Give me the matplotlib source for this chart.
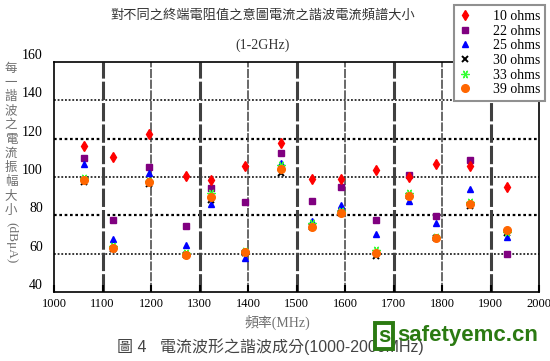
"""Harmonic current spectrum for different termination resistors (1-2 GHz)."""
import matplotlib
matplotlib.use("Agg")
import matplotlib.pyplot as plt
import matplotlib.transforms as mtransforms

# ---- data ----
FREQ = [1061, 1122, 1195, 1272, 1324, 1393, 1468, 1531, 1591, 1663, 1731, 1787, 1858, 1934]
R10 = [116.0, 110.5, 122.5, 100.3, 98.2, 105.5, 117.8, 99.0, 98.8, 103.8, 100.2, 106.6, 105.9, 94.6]
R22 = [110.0, 77.7, 105.4, 74.5, 94.4, 86.8, 112.3, 87.5, 94.6, 77.7, 100.9, 79.7, 108.7, 60.0]
R25 = [106.8, 67.8, 102.3, 64.7, 86.0, 57.6, 107.4, 77.0, 85.5, 70.4, 87.7, 76.1, 93.8, 68.8]
R30 = [97.4, 62.5, 96.5, 59.5, 88.0, 60.5, 102.0, 74.0, 81.0, 59.0, 90.0, 68.3, 85.0, 70.8]
R33 = [99.5, 64.0, 98.0, 60.5, 91.7, 61.5, 106.5, 76.0, 82.5, 62.0, 91.5, 68.5, 87.0, 71.5]
R39 = [98.4, 63.1, 97.4, 59.5, 89.5, 60.9, 104.2, 74.0, 81.3, 60.5, 90.1, 68.3, 85.8, 72.5]

XTICKS = [1000, 1100, 1200, 1300, 1400, 1500, 1600, 1700, 1800, 1900, 2000]
YTICKS = [40, 60, 80, 100, 120, 140, 160]

TITLE = "對不同之終端電阻值之意圖電流之諧波電流頻譜大小"
SUBTITLE = "(1-2GHz)"
YLABEL_CJK = "每一諧波之電流振幅大小"
YLABEL_UNIT = "(dBμA)"
XLABEL = "頻率(MHz)"
CAPTION = "圖 4   電流波形之諧波成分(1000-2000MHz)"

SERIF = ["Liberation Serif", "Noto Sans CJK TC"]
CJK = ["Noto Sans CJK TC", "DejaVu Sans"]
plt.rcParams["font.family"] = SERIF

W, H = 550, 361
fig = plt.figure(figsize=(W / 100, H / 100), dpi=100)
ax = fig.add_axes([54 / W, 1 - 292 / H, (539 - 54) / W, (292 - 62) / H])

# grid: dotted horizontals, dashed verticals (alternating weights)
for y in YTICKS[1:-1]:
    ax.axhline(y, color="black", ls=(0, (1.2, 1.2)), lw=1.6 if y in (80, 120) else 1.1, zorder=1)
for x in XTICKS[1:-1]:
    thick = x in (1100, 1300, 1500, 1700, 1900)
    ax.axvline(x, color="#404040", ls=(0, (6, 1)), lw=2.2 if thick else 1.1, zorder=1)

series = [
    ("22 ohms", R22, dict(marker="s", color="#800080", ms=4.5)),
    ("25 ohms", R25, dict(marker="^", color="#0000ff", ms=4.2)),
    ("30 ohms", R30, dict(marker="x", color="black", ms=4.5, mew=1.4)),
    ("33 ohms", R33, dict(marker=(6, 2, 30), color="#33ff33", ms=6, mew=0.9)),
    ("39 ohms", R39, dict(marker="o", color="#ff6600", ms=5.5)),
    ("10 ohms", R10, dict(marker="d", color="#ff0000", ms=5)),
]
handles = {}
for label, vals, kw in series:
    (h,) = ax.plot(FREQ, vals, ls="none", label=label, zorder=3, **kw)
    handles[label] = h

ax.set_xlim(1000, 2000)
ax.set_ylim(40, 160)
ax.set_xticks(XTICKS)
ax.set_yticks(YTICKS)
ax.tick_params(axis="x", direction="in", length=5, width=1.5, labelsize=9, pad=4)
ax.tick_params(axis="y", length=0, labelsize=10, pad=8)
for s in ax.spines.values():
    s.set_linewidth(1.2)

offset = mtransforms.ScaledTranslation(0, 0.08, fig.dpi_scale_trans)
for lbl in ax.get_yticklabels():
    lbl.set_transform(lbl.get_transform() + offset)

order = ["10 ohms", "22 ohms", "25 ohms", "30 ohms", "33 ohms", "39 ohms"]
leg = fig.legend([handles[k] for k in order], order, loc="upper right",
                 bbox_to_anchor=(545 / W, 1 - 5 / H), fontsize=10,
                 fancybox=False, framealpha=1, edgecolor="#909090",
                 handlelength=0.8, handletextpad=1.6, labelspacing=0.12,
                 borderpad=0.35, borderaxespad=0)
leg.get_frame().set_linewidth(1.5)

# titles
fig.text(263 / W, 1 - 15 / H, TITLE, ha="center", va="center", fontsize=9.5,
         family=CJK, color="#333333")
fig.text(263 / W, 1 - 45 / H, SUBTITLE, ha="center", va="center", fontsize=10,
         color="#333333")

# vertical (stacked) y label
for i, ch in enumerate(YLABEL_CJK):
    fig.text(11 / W, 1 - (68 + i * 14.2) / H, ch, ha="center", va="center",
             fontsize=9, family=CJK, color="#707070")
fig.text(11 / W, 1 - 243 / H, YLABEL_UNIT, ha="center", va="center",
         fontsize=9.5, rotation=-90, color="#707070")

fig.text(277 / W, 1 - 322 / H, XLABEL, ha="center", va="center", fontsize=10,
         color="#707070")
fig.text(117 / W, 1 - 347 / H, CAPTION, ha="left", va="center", fontsize=11.5,
         family=["Liberation Sans", "Noto Sans CJK TC"], color="#444444")

# site watermark
fig.text(384 / W, 1 - 336 / H, "s", ha="center", va="center", fontsize=16,
         weight="bold", family="Liberation Sans", color="#2b7a12",
         bbox=dict(boxstyle="square,pad=0.12", fc="white", ec="#2b7a12", lw=2.8))
fig.text(397 / W, 1 - 336 / H, "safetyemc.cn", ha="left", va="center",
         fontsize=16, weight="bold", family="Liberation Sans", color="#2b7a12")

fig.savefig("out.png", dpi=100)
